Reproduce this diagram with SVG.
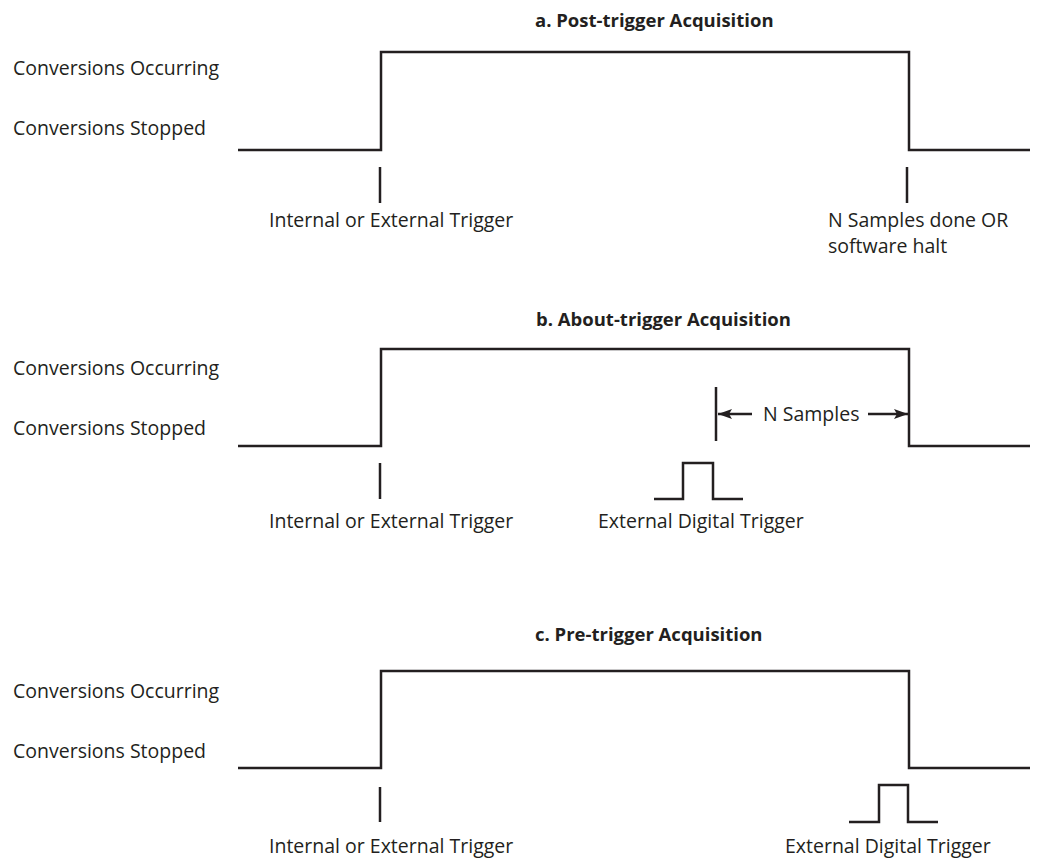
<svg xmlns="http://www.w3.org/2000/svg" width="1037" height="863" viewBox="0 0 1037 863">
  <style>
    .bg { fill: #ffffff; }
    .wave { fill: none; stroke: #231f20; stroke-width: 2.5; stroke-linejoin: miter; stroke-linecap: butt; }
    .lbl { font-family: "Open Sans", "Liberation Sans", sans-serif; font-size: 19.5px; fill: #231f20; }
    .ttl { font-family: "Open Sans", "Liberation Sans", sans-serif; font-size: 18.5px; font-weight: bold; fill: #231f20; }
  </style>
  <defs>
    <marker id="arrow" viewBox="0 0 14 10" refX="14" refY="5" markerWidth="14" markerHeight="10" markerUnits="userSpaceOnUse" orient="auto">
      <path d="M0,0 L14,5 L0,10 L3,5 z" fill="#231f20"/>
    </marker>
  </defs>
  <rect class="bg" x="0" y="0" width="1037" height="863"/>

  <!-- Section a -->
  <g id="section-a">
    <text class="ttl" x="535" y="27">a. Post-trigger Acquisition</text>
    <text class="lbl" x="13" y="75">Conversions Occurring</text>
    <text class="lbl" x="13" y="135">Conversions Stopped</text>
    <text class="lbl" x="269" y="227">Internal or External Trigger</text>
    <text class="lbl" x="828" y="227">N Samples done OR</text>
    <text class="lbl" x="828" y="253">software halt</text>
  </g>

  <!-- Section b -->
  <g id="section-b">
    <text class="ttl" x="536" y="326">b. About-trigger Acquisition</text>
    <text class="lbl" x="13" y="375">Conversions Occurring</text>
    <text class="lbl" x="13" y="435">Conversions Stopped</text>
    <text class="lbl" x="269" y="528">Internal or External Trigger</text>
    <text class="lbl" x="763" y="421">N Samples</text>
    <text class="lbl" x="598" y="528">External Digital Trigger</text>
  </g>

  <!-- Section c -->
  <g id="section-c">
    <text class="ttl" x="535" y="641">c. Pre-trigger Acquisition</text>
    <text class="lbl" x="13" y="698">Conversions Occurring</text>
    <text class="lbl" x="13" y="758">Conversions Stopped</text>
    <text class="lbl" x="269" y="853">Internal or External Trigger</text>
    <text class="lbl" x="785" y="853">External Digital Trigger</text>
  </g>

  <!-- Waveforms, ticks and arrows -->
  <g id="connectors">
    <polyline class="wave" points="238,150 381,150 381,52 909,52 909,150 1030,150"/>
    <line class="wave" x1="380" y1="167" x2="380" y2="203"/>
    <line class="wave" x1="907" y1="167" x2="907" y2="203"/>

    <polyline class="wave" points="238,446 381,446 381,349 909,349 909,446 1030,446"/>
    <line class="wave" x1="380" y1="463" x2="380" y2="499"/>
    <line class="wave" x1="716" y1="387" x2="716" y2="441"/>
    <line class="wave" x1="752" y1="414" x2="718" y2="414" marker-end="url(#arrow)"/>
    <line class="wave" x1="868" y1="414" x2="908" y2="414" marker-end="url(#arrow)"/>
    <polyline class="wave" points="654,499 683,499 683,463 713,463 713,499 743,499"/>

    <polyline class="wave" points="238,768 381,768 381,671 909,671 909,768 1030,768"/>
    <line class="wave" x1="380" y1="787" x2="380" y2="822"/>
    <polyline class="wave" points="849,822 879,822 879,785 908,785 908,822 938,822"/>
  </g>
</svg>
